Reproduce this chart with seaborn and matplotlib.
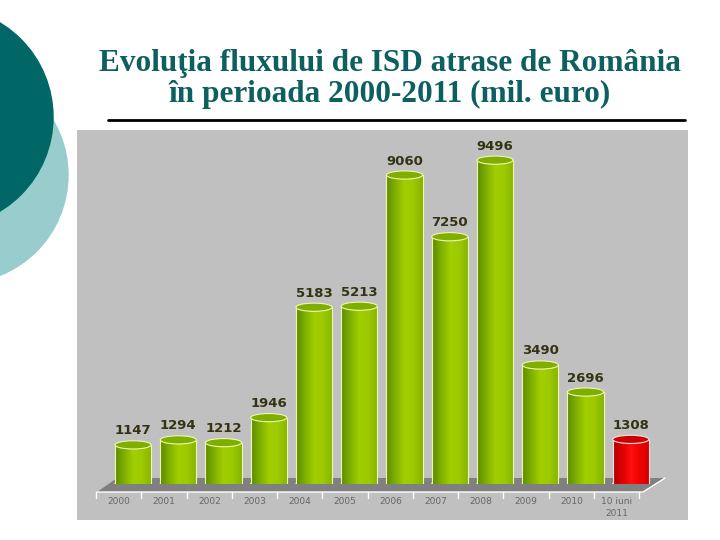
import matplotlib
matplotlib.use('Agg')
import matplotlib.pyplot as plt
import numpy as np
import seaborn as sns
from matplotlib.patches import Ellipse, Circle, Polygon
from matplotlib.colors import LinearSegmentedColormap

years = ['2000', '2001', '2002', '2003', '2004', '2005',
         '2006', '2007', '2008', '2009', '2010', '10 iuni\n2011']
fdi = [1147, 1294, 1212, 1946, 5183, 5213, 9060, 7250, 9496, 3490, 2696, 1308]
bar_colors = ['#8cc000'] * 11 + ['#ee0000']

title = 'Evoluţia fluxului de ISD atrase de România\nîn perioada 2000-2011 (mil. euro)'

sns.set_theme(style='white')
plt.rcParams['font.family'] = ['DejaVu Sans']

fig = plt.figure(figsize=(7.2, 5.4), dpi=100)
fig.patch.set_facecolor('white')

# slide background: circles, title, rule
bg = fig.add_axes([0, 0, 1, 1])
bg.set_xlim(0, 720)
bg.set_ylim(540, 0)
bg.axis('off')
bg.add_patch(Circle((-40, 175), 108, color='#99cccc', zorder=1))
bg.add_patch(Circle((-57, 117), 110, color='#006666', zorder=2))
bg.plot([108, 685], [120, 120], color='black', lw=2)
bg.text(390, 79, title, ha='center', va='center', fontsize=22.5,
        fontweight='bold', color='#0d6060', family='Liberation Serif',
        linespacing=1.1)

# gray chart panel
panel = fig.add_axes([77 / 720, 1 - 520 / 540, 611 / 720, 390 / 540])
panel.set_facecolor('#c0c0c0')
panel.set_xlim(0, 611)
panel.set_ylim(390, 0)
panel.set_xticks([])
panel.set_yticks([])
for s in panel.spines.values():
    s.set_visible(False)

# floor of the 3d chart (panel pixel coordinates)
floor = Polygon([(20, 362), (40, 348), (588, 348), (566, 362)],
                closed=True, facecolor='#808080', edgecolor='none')
panel.add_patch(floor)
panel.plot([20, 566, 588], [362, 362, 348], color='white', lw=1)
for k in range(13):
    xk = 19 + k * 45.27
    panel.plot([xk, xk], [362, 368], color='white', lw=1)

# bars
ax = fig.add_axes([110.4 / 720, 1 - 484 / 540, 543 / 720, 354 / 540])
ax.patch.set_alpha(0)
sns.barplot(x=years, y=fdi, hue=years, palette=bar_colors, legend=False,
            width=0.8, saturation=1, ax=ax)
ax.set_xlim(-0.5, 11.5)
ax.set_ylim(0, 10380)
for s in ax.spines.values():
    s.set_visible(False)
ax.set_yticks([])
ax.set_xticks(np.arange(len(years)) - 0.31)
ax.set_xticklabels(years, fontsize=6.5, color='#666666', linespacing=1.5)
ax.tick_params(axis='x', length=0, pad=9)

green = LinearSegmentedColormap.from_list(
    'g', ['#5e8c00', '#7fb000', '#a2cf00', '#9cc900', '#86b400'])
red = LinearSegmentedColormap.from_list(
    'r', ['#b00000', '#dd0000', '#ff1010', '#f00000', '#d00000'])
grad = np.linspace(0, 1, 64).reshape(1, -1)
cap_h = 240

patches = [p for c in ax.containers for p in c.patches]
patches.sort(key=lambda p: p.get_x())
for i, p in enumerate(patches):
    x0, w, h = p.get_x(), p.get_width(), p.get_height()
    cmap = red if i == 11 else green
    p.set_edgecolor('none')
    im = ax.imshow(grad, cmap=cmap, aspect='auto',
                   extent=(x0, x0 + w, 0, h), zorder=2)
    im.set_clip_path(p)
    edge = '#ffe0e0' if i == 11 else '#f0f8b0'
    ax.plot([x0, x0], [0, h], color=edge, lw=0.8, zorder=3)
    ax.plot([x0 + w, x0 + w], [0, h], color=edge, lw=0.8, zorder=3)
    ax.add_patch(Ellipse((x0 + w / 2, 0), w, cap_h, facecolor=cmap(0.6),
                         edgecolor=edge, lw=0.8, zorder=1))
    top_col = '#cc0000' if i == 11 else '#7fae00'
    ax.add_patch(Ellipse((x0 + w / 2, h), w, cap_h, facecolor=top_col,
                         edgecolor=edge, lw=0.8, zorder=4))
    ax.text(x0 + w / 2, h + 220, f'{fdi[i]}', ha='center', va='bottom',
            fontsize=9.5, fontweight='bold', color='#333311', zorder=5)

ax.set_xlim(-0.5, 11.5)
ax.set_ylim(0, 10380)

fig.savefig('out.png', dpi=100, facecolor='white')
